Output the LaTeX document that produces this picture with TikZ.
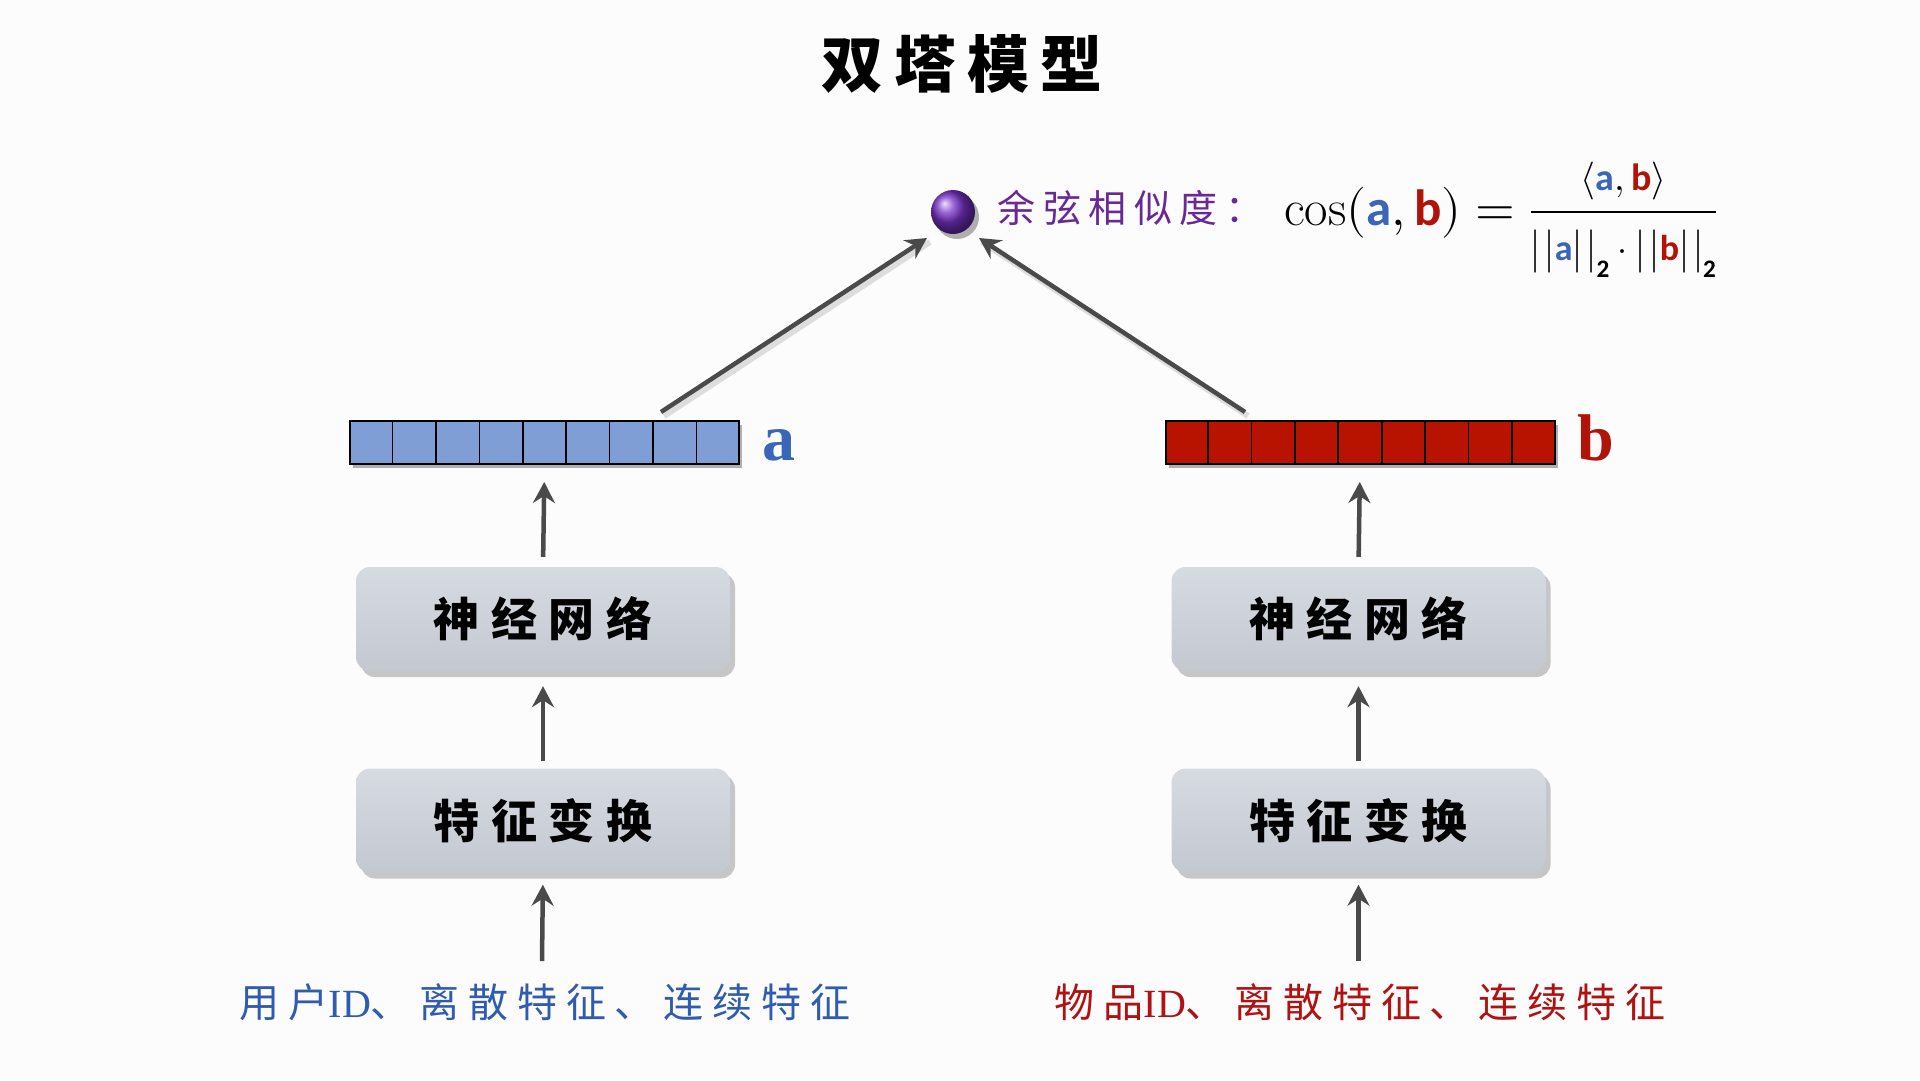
\documentclass[tikz,border=0pt]{standalone}
\usepackage{amsmath}
\usepackage{fontspec}
\usepackage{unicode-math}
\setmathfont{Latin Modern Math}
\newfontfamily\cjktitle{Noto Sans CJK SC}[LetterSpace=18]
\newfontfamily\cjkbox{Noto Sans CJK SC}[LetterSpace=25]
\newfontfamily\cjkbot{Noto Sans CJK SC}[LetterSpace=22]
\newfontfamily\cjkpur{Noto Sans CJK SC}[LetterSpace=20]
\newfontfamily\carl{Carlito}
\newfontfamily\lserif{Liberation Serif}
\usetikzlibrary{arrows.meta,shadows,calc}

\definecolor{bgcol}{RGB}{253,252,253}
\definecolor{vblue}{RGB}{127,158,214}
\definecolor{vred}{RGB}{184,18,0}
\definecolor{ablue}{RGB}{58,102,184}
\definecolor{bred}{RGB}{176,20,8}
\definecolor{tblue}{RGB}{48,92,176}
\definecolor{tred}{RGB}{176,18,18}
\definecolor{purp}{RGB}{104,40,150}
\definecolor{ballpurple}{RGB}{120,50,200}
\definecolor{boxtop}{RGB}{214,218,225}
\definecolor{boxbot}{RGB}{196,201,209}
\definecolor{arrcol}{RGB}{74,74,74}

\newcommand{\va}{\text{\carl\bfseries\color{ablue}a}}
\newcommand{\vb}{\text{\carl\bfseries\color{bred}b}}
\newcommand{\vtwo}{\text{\carl\bfseries 2}}
\newcommand{\dbarL}{\bigl\vert\mkern2mu\bigl\vert}
\newcommand{\dbarR}{\bigr\vert\mkern2mu\bigr\vert}

\tikzset{
  vecbox/.style={draw=black, line width=2pt, inner sep=0pt,
    minimum width=389pt, minimum height=43pt,
    drop shadow={shadow xshift=3pt, shadow yshift=-4pt, opacity=0.3, fill=black}},
  stagebox/.style={rounded corners=14pt, minimum width=374pt, minimum height=104pt,
    top color=boxtop, bottom color=boxbot, inner sep=0pt,
    drop shadow={shadow xshift=5pt, shadow yshift=-6pt, opacity=0.3, fill=black!70},
    font=\cjkbox\bfseries\fontsize{46}{50}\selectfont, text=black},
  arr/.style={draw=arrcol, line width=4.5pt,
    -{Stealth[length=21pt, width=22pt, inset=7pt]}},
  arrshadow/.style={draw=black, opacity=0.12, line width=6pt,
    transform canvas={xshift=3pt, yshift=-4pt}},
  veclabel/.style={anchor=base west, font=\lserif\bfseries\fontsize{66}{70}\selectfont},
  inputtext/.style={font=\cjkbot\fontsize{40}{44}\selectfont},
}

\begin{document}
\begin{tikzpicture}[x=1pt, y=-1pt]
\fill[bgcol] (0,0) rectangle (1920,1080);
\useasboundingbox (0,0) rectangle (1920,1080);

% title
\node[font=\cjktitle\bfseries\fontsize{62}{68}\selectfont] (title) at (962,64) {双塔模型};

% similarity ball and formula
\node[circle, minimum size=44pt, inner sep=0pt, shading=ball, ball color=ballpurple,
  drop shadow={shadow xshift=4pt, shadow yshift=-5pt, opacity=0.3, fill=black}] (ball) at (953,212) {};
\node[anchor=west, font=\cjkpur\fontsize{38}{42}\selectfont, text=purp] (sim) at (994,208) {余弦相似度：};
\node[anchor=west, font=\fontsize{51}{56}\selectfont, inner sep=0pt] (cosf) at (1284,220)
  {$\cos(\va,\vb)=\dfrac{\hbox{\fontsize{38}{42}\selectfont$\langle\va,\vb\rangle$}}{\hbox{\fontsize{36}{40}\selectfont$\dbarL\va\dbarR_{\vtwo}\cdot\dbarL\vb\dbarR_{\vtwo}$}}$};

% vectors
\node[vecbox, fill=vblue] (va) at (544.5,442.5) {};
\node[vecbox, fill=vred] (vb) at (1360,442.5) {};
\foreach \v in {va,vb}{
  \foreach \i in {1,...,8}{
    \draw[line width=1.6pt] ($(\v.north west)!\i/9!(\v.north east)$) -- ($(\v.south west)!\i/9!(\v.south east)$);
  }
}
\node[veclabel, text=ablue] (la) at (759,460) {a};
\node[veclabel, text=bred] (lb) at (1574,460) {b};

% stage boxes
\node[stagebox] (nnl) at (543,619) {神经网络};
\node[stagebox] (ftl) at (543,820.5) {特征变换};
\node[stagebox] (nnr) at (1358.5,619) {神经网络};
\node[stagebox] (ftr) at (1358.5,820.5) {特征变换};

% inputs
\node[inputtext, text=tblue] (inl) at (545,1002) {用户{\lserif ID}、离散特征、连续特征};
\node[inputtext, text=tred] (inr) at (1360,1002) {物品{\lserif ID}、离散特征、连续特征};

% arrow coordinates
\coordinate (ls) at ([xshift=116.5pt, yshift=8pt]va.north);
\coordinate (lt) at ([shift={(-26,26)}]ball.center);
\coordinate (rs) at ([xshift=-115pt, yshift=8pt]vb.north);
\coordinate (rt) at ([shift={(26,26)}]ball.center);
\coordinate (inls) at (542,961);
\coordinate (inrs) at (1358.5,961);

% arrow shadows
\draw[arrshadow] (ls) -- (lt);
\draw[arrshadow] (rs) -- (rt);

% arrows
\draw[arr] (ls) -- (lt);
\draw[arr] (rs) -- (rt);
\draw[arr, shorten <=10pt, shorten >=17pt] (nnl.north) -- (va.south);
\draw[arr, shorten <=10pt, shorten >=17pt] (nnr.north) -- (vb.south);
\draw[arr, shorten <=7pt, shorten >=15pt] (ftl.north) -- (nnl.south);
\draw[arr, shorten <=7pt, shorten >=15pt] (ftr.north) -- (nnr.south);
\draw[arr, shorten >=12pt] (inls) -- (ftl.south);
\draw[arr, shorten >=12pt] (inrs) -- (ftr.south);
\end{tikzpicture}
\end{document}
